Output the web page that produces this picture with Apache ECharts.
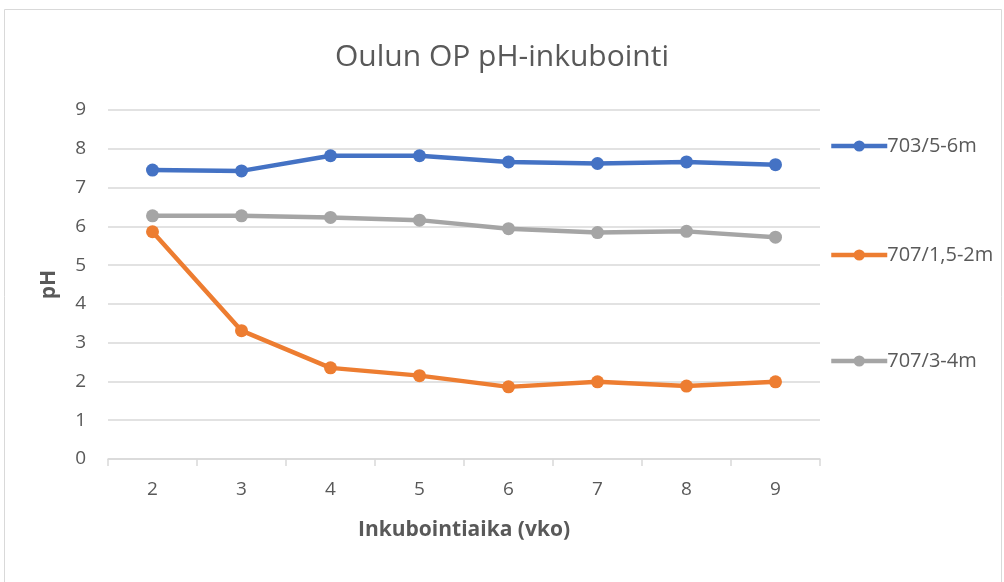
<!DOCTYPE html>
<html>
<head>
<meta charset="utf-8">
<script src="https://cdn.jsdelivr.net/npm/echarts@6/dist/echarts.min.js"></script>
<style>
  html, body { margin: 0; padding: 0; background: #fff; }
  #chart { width: 1004px; height: 582px; }
</style>
</head>
<body>
<div id="chart"></div>
<script>
const weeks = ['2', '3', '4', '5', '6', '7', '8', '9']
const ph703_5_6 = [7.45, 7.43, 7.82, 7.82, 7.66, 7.62, 7.66, 7.59]
const ph707_15_2 = [5.86, 3.31, 2.35, 2.15, 1.86, 1.99, 1.88, 1.99]
const ph707_3_4 = [6.27, 6.27, 6.23, 6.16, 5.94, 5.84, 5.87, 5.72]
const seriesNames = ['703/5-6m', '707/1,5-2m', '707/3-4m']
const colors = ['#4472C4', '#ED7D31', '#A5A5A5']

const font = '"Open Sans", "Noto Sans", sans-serif'
const textGray = '#595959'

const chart = echarts.init(document.getElementById('chart'))

const legendTops = [136, 245, 351]
const legends = seriesNames.map((name, i) => ({
  data: [name],
  left: 829,
  top: legendTops[i],
  padding: 0,
  itemWidth: 56,
  itemHeight: 14,
  itemGap: 0,
  lineStyle: { width: 4.5 },
  textStyle: { fontFamily: font, fontSize: 20, color: textGray, padding: [0, 0, 0, -5] },
}))

const makeSeries = (name, data, color) => ({
  name,
  type: 'line',
  data,
  symbol: 'circle',
  symbolSize: 13,
  lineStyle: { width: 4.5, color },
  itemStyle: { color },
  emphasis: { disabled: true },
})

chart.setOption({
  animation: false,
  color: colors,
  title: {
    text: 'Oulun OP pH-inkubointi',
    left: 'center',
    top: 37,
    textStyle: { fontFamily: font, fontSize: 30, fontWeight: 'normal', color: textGray },
  },
  legend: legends,
  grid: { left: 108, right: 184, top: 110, bottom: 123 },
  graphic: [
    {
      type: 'rect',
      shape: { x: 4.5, y: 9.5, width: 997, height: 590 },
      style: { fill: 'none', stroke: '#d9d9d9', lineWidth: 1 },
      silent: true,
    },
  ],
  xAxis: {
    type: 'category',
    data: weeks,
    boundaryGap: true,
    name: 'Inkubointiaika (vko)',
    nameLocation: 'middle',
    nameGap: 61,
    nameTextStyle: { fontFamily: font, fontSize: 21, fontWeight: 'bold', color: textGray },
    axisLine: { lineStyle: { color: '#d9d9d9', width: 1.5 } },
    axisTick: { show: true, length: 7, lineStyle: { color: '#d9d9d9', width: 1.5 } },
    axisLabel: { fontFamily: font, fontSize: 19, color: textGray, margin: 21 },
  },
  yAxis: {
    type: 'value',
    min: 0,
    max: 9,
    interval: 1,
    name: 'pH',
    nameLocation: 'middle',
    nameGap: 48,
    nameRotate: 90,
    nameTextStyle: { fontFamily: font, fontSize: 21, fontWeight: 'bold', color: textGray },
    axisLine: { show: false },
    axisTick: { show: false },
    axisLabel: { fontFamily: font, fontSize: 19, color: textGray, margin: 22 },
    splitLine: { lineStyle: { color: '#d9d9d9', width: 1.5 } },
  },
  series: [
    makeSeries(seriesNames[0], ph703_5_6, colors[0]),
    makeSeries(seriesNames[1], ph707_15_2, colors[1]),
    makeSeries(seriesNames[2], ph707_3_4, colors[2]),
  ],
})
</script>
</body>
</html>
